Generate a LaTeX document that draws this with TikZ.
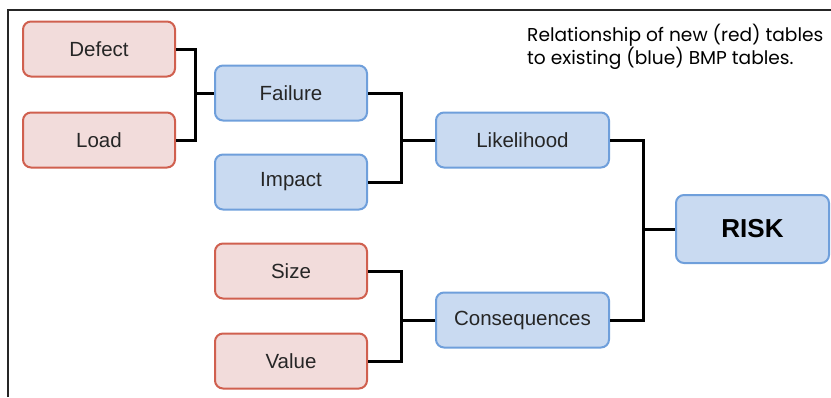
\documentclass[tikz,border=0pt]{standalone}
\usepackage{fontspec}
\setmainfont{Liberation Sans}
\newfontfamily\capfont{Poppins}
\definecolor{redfill}{HTML}{F2DCDB}
\definecolor{redline}{HTML}{D0604F}
\definecolor{bluefill}{HTML}{C9DAF1}
\definecolor{blueline}{HTML}{6F9FDB}
\definecolor{ink}{HTML}{262626}
\begin{document}
\begin{tikzpicture}[x=1pt,y=-1pt,
  box/.style={rounded corners=8pt,line width=2pt,minimum height=55pt,inner sep=0pt,text=ink,font=\fontsize{20.5}{24}\selectfont},
  newbox/.style={box,draw=redline,fill=redfill,minimum width=152pt},
  oldbox/.style={box,draw=blueline,fill=bluefill,minimum width=152pt},
  wide/.style={minimum width=173pt},
  link/.style={line width=3pt,black}]
\useasboundingbox (0,0) rectangle (831,397);
\draw[line width=1.2pt,black!85] (8,397) -- (8,10) -- (831,10);
\node[newbox] (defect) at (99,49) {Defect};
\node[newbox] (load) at (99,140) {Load};
\node[oldbox] (failure) at (291,93) {Failure};
\node[oldbox] (impact) at (291,182) {Impact};
\node[oldbox,wide] (likelihood) at (522.5,140) {Likelihood};
\node[newbox] (size) at (291,271) {Size};
\node[newbox] (value) at (291,361) {Value};
\node[oldbox,wide] (conseq) at (522.5,320) {Consequences};
\node[oldbox,minimum width=153pt,minimum height=68pt,font=\fontsize{26}{30}\selectfont\bfseries,text=black] (risk) at (752.5,229) {RISK};
\node[anchor=north west,inner sep=0pt,align=left,font=\capfont\fontsize{18.6}{22.5}\selectfont,text=black] (cap) at (527,24) {Relationship of new (red) tables\\to existing (blue) BMP tables.};
\draw[link] (defect.east) -| (195,93) |- (load.east);
\draw[link] (195,93) -- (failure.west);
\draw[link] (failure.east) -| (401,140) |- (impact.east);
\draw[link] (401,140) -- (likelihood.west);
\draw[link] (size.east) -| (401,320) |- (value.east);
\draw[link] (401,320) -- (conseq.west);
\draw[link] (likelihood.east) -| (643,229) |- (conseq.east);
\draw[link] (643,229) -- (risk.west);
\end{tikzpicture}
\end{document}
